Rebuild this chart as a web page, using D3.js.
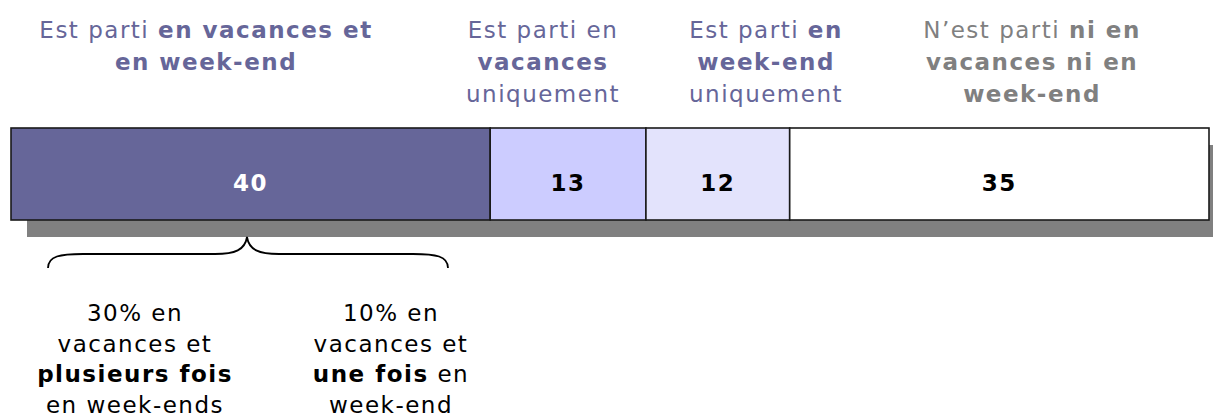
<!DOCTYPE html>
<html>
<head>
<meta charset="utf-8">
<script src="https://cdn.jsdelivr.net/npm/d3@7"></script>
<style>
body { margin: 0; background: #fff; }
svg { display: block; font-family: "DejaVu Sans", Verdana, sans-serif; }
text { white-space: pre; letter-spacing: 1.5px; }
</style>
</head>
<body>
<svg id="chart"></svg>
<script>
// data
const categories = ['vacances et week-end', 'vacances uniquement', 'week-end uniquement', 'ni l\'un ni l\'autre']
const values = [40, 13, 12, 35]
// ** marks the bold part of a line
const titles = [
  ['Est parti **en vacances et**', '**en week-end**'],
  ['Est parti en', '**vacances**', 'uniquement'],
  ['Est parti **en**', '**week-end**', 'uniquement'],
  ['N’est parti **ni en**', '**vacances ni en**', '**week-end**']
]
const splitLabels = [
  ['30% en', 'vacances et', '**plusieurs fois**', 'en week-ends'],
  ['10% en', 'vacances et', '**une fois** en', 'week-end']
]

// layout
const W = 1213, H = 419
const barTop = 128, barH = 92
const shadowDx = 16, shadowDy = 17
const fills = ['#666699', '#ccccff', '#e3e3fc', '#ffffff']
const numColors = ['#ffffff', '#000000', '#000000', '#000000']
const titleColors = ['#666699', '#666699', '#666699', '#808080']
const titleX = [206, 543, 766, 1032]
const splitX = [135, 391]
const fontSize = 23

const svg = d3.select('#chart').attr('width', W).attr('height', H)

const x = d3.scaleLinear().domain([0, d3.sum(values)]).range([11, 1209])
const ends = Array.from(d3.cumsum(values))
const data = values.map((v, i) => ({ cat: categories[i], v, x0: ends[i] - v, x1: ends[i], i }))

// writes a line, switching weight on ** markers
function richLine(sel, str){
  str.split('**').forEach((part, k) => {
    if (!part) return
    sel.append('tspan').attr('font-weight', k % 2 ? 'bold' : 'normal').text(part)
  })
}

// shadow
svg.append('rect')
  .attr('x', x(0) + shadowDx)
  .attr('y', barTop + shadowDy)
  .attr('width', x(d3.sum(values)) - x(0))
  .attr('height', barH)
  .attr('fill', '#808080')

const seg = svg.selectAll('.seg')
  .data(data)
  .enter().append('g')
  .attr('class', 'seg')

seg.append('rect')
  .attr('x', d => x(d.x0))
  .attr('y', barTop)
  .attr('width', d => x(d.x1) - x(d.x0))
  .attr('height', barH)
  .attr('fill', d => fills[d.i])
  .attr('stroke', '#1a1a1a')
  .attr('stroke-width', 1.6)

seg.append('text')
  .attr('x', d => (x(d.x0) + x(d.x1)) / 2)
  .attr('y', barTop + barH / 2 + 17)
  .attr('text-anchor', 'middle')
  .attr('font-weight', 'bold')
  .attr('font-size', fontSize)
  .attr('fill', d => numColors[d.i])
  .text(d => d.v)

// titles above the bar
titles.forEach((lines, i) => {
  lines.forEach((line, j) => {
    const t = svg.append('text')
      .attr('x', titleX[i])
      .attr('y', 38 + j * 32)
      .attr('text-anchor', 'middle')
      .attr('font-size', fontSize)
      .attr('fill', titleColors[i])
    richLine(t, line)
  })
})

// brace under the first segment
svg.append('path')
  .attr('d', 'M48,268 C48,256 60,254 83,254 L215,254 C235,254 245,250 247,237 C249,250 259,254 279,254 L413,254 C436,254 448,256 448,268')
  .attr('fill', 'none')
  .attr('stroke', '#000')
  .attr('stroke-width', 1.8)

splitLabels.forEach((lines, i) => {
  lines.forEach((line, j) => {
    const t = svg.append('text')
      .attr('x', splitX[i])
      .attr('y', 321 + j * 30.5)
      .attr('text-anchor', 'middle')
      .attr('font-size', fontSize)
      .attr('fill', '#000')
    richLine(t, line)
  })
})
</script>
</body>
</html>
